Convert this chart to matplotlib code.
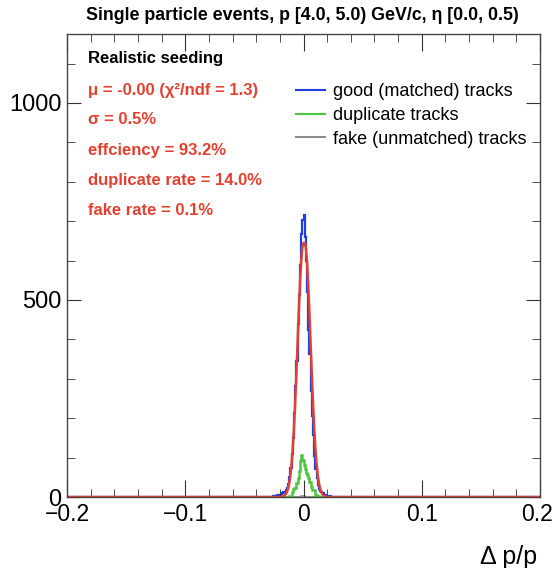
import numpy as np
import matplotlib
matplotlib.use("Agg")
import matplotlib.pyplot as plt
import matplotlib.transforms as mtransforms
from matplotlib.ticker import MultipleLocator
from matplotlib.lines import Line2D

plt.rcParams['font.family'] = ['Liberation Sans', 'DejaVu Sans']

# ---- data ----
x_min, x_max, bin_width = -0.2, 0.2, 0.001
# bins covering [-0.030, 0.030] (60 bins), everything else empty
good_core = [0, 1, 0, 1, 2, 1, 3, 2, 4, 5,
             6, 8, 10, 12, 11, 17, 24, 33, 50, 74,
             108, 150, 214, 282, 345, 440, 512, 590, 668, 702,
             715, 660, 598, 520, 425, 362, 270, 205, 158, 104,
             70, 47, 30, 21, 14, 12, 9, 6, 4, 3,
             2, 1, 2, 0, 1, 0, 1, 0, 0, 0]
dup_core = [0, 0, 0, 0, 0, 0, 0, 0, 0, 0,
            0, 0, 0, 0, 0, 0, 0, 1, 2, 3,
            12, 20, 22, 24, 35, 48, 66, 92, 107, 95,
            80, 72, 62, 55, 48, 38, 25, 19, 18, 18,
            6, 3, 2, 1, 0, 0, 0, 0, 0, 0,
            0, 0, 0, 0, 0, 0, 0, 0, 0, 0]
fake_core = [0, 0, 0, 0, 0, 0, 0, 0, 0, 0,
             0, 0, 0, 0, 0, 0, 0, 0, 0, 0,
             0, 0, 0, 0, 0, 0, 1, 1, 2, 2,
             2, 1, 1, 1, 0, 0, 0, 0, 0, 0,
             0, 0, 0, 0, 0, 0, 0, 0, 0, 0,
             0, 0, 0, 0, 0, 0, 0, 0, 0, 0]
core_start = -0.030

# Gaussian fit curve
fit_x = [-0.2, -0.021, -0.020, -0.019, -0.018, -0.017, -0.016, -0.015, -0.014, -0.013,
         -0.012, -0.011, -0.010, -0.009, -0.008, -0.007, -0.006, -0.005, -0.004,
         -0.003, -0.002, -0.001, 0.000, 0.001, 0.002, 0.003, 0.004, 0.005, 0.006,
         0.007, 0.008, 0.009, 0.010, 0.011, 0.012, 0.013, 0.014, 0.015, 0.016,
         0.017, 0.018, 0.019, 0.020, 0.021, 0.2]
fit_y = [0, 0, 0.2, 0.5, 1, 2, 4, 7, 13, 22,
         36, 57, 87, 127, 178, 242, 314, 391, 469,
         540, 596, 632, 645, 645, 632, 596, 540, 469, 391,
         314, 242, 178, 127, 87, 57, 36, 22, 13, 7,
         4, 2, 1, 0.5, 0, 0]

title = "Single particle events, p [4.0, 5.0) GeV/c, η [0.0, 0.5)"
stats_head = "Realistic seeding"
stats_lines = ["μ = -0.00 (χ²/ndf = 1.3)", "σ = 0.5%", "effciency = 93.2%",
               "duplicate rate = 14.0%", "fake rate = 0.1%"]
legend_labels = ["good (matched) tracks", "duplicate tracks", "fake (unmatched) tracks"]
x_tick_vals = [-0.2, -0.1, 0, 0.1, 0.2]
x_tick_labels = ["−0.2", "−0.1", "0", "0.1", "0.2"]
y_tick_vals = [0, 500, 1000]
y_tick_labels = ["0", "500", "1000"]
y_max = 1175

# ---- build histograms ----
nbins = int(round((x_max - x_min) / bin_width))
edges = np.linspace(x_min, x_max, nbins + 1)
i0 = int(round((core_start - x_min) / bin_width))
def full(core):
    h = np.zeros(nbins)
    h[i0:i0 + len(core)] = core
    return h

good = full(good_core)
dup = full(dup_core)
fake = full(fake_core)

c_blue = "#1f3fe0"
c_green = "#4cc63a"
c_grey = "#8c8c8c"
c_red = "#e2412f"

fig = plt.figure(figsize=(5.53, 5.68), dpi=100)
ax = fig.add_axes([67/553, 1-497/568, (540-67)/553, (497-34)/568])

ax.stairs(good, edges, color=c_blue, lw=1.6)
ax.stairs(fake, edges, color=c_grey, lw=1.2)
ax.stairs(dup, edges, color=c_green, lw=1.8)
ax.plot(fit_x, fit_y, color=c_red, lw=1.8)

ax.set_xlim(x_min, x_max)
ax.set_ylim(0, y_max)
ax.xaxis.set_minor_locator(MultipleLocator(0.02))
ax.yaxis.set_minor_locator(MultipleLocator(100))
ax.set_xticks(x_tick_vals)
ax.set_xticklabels(x_tick_labels)
ax.set_yticks(y_tick_vals)
ax.set_yticklabels(y_tick_labels)
ax.tick_params(which='both', direction='in', top=True, right=True, colors='#333333',
               labelcolor='black', labelsize=17)
ax.tick_params(axis='x', which='major', length=12, pad=4, labelsize=16.5)
ax.tick_params(axis='x', which='minor', length=6)
ax.tick_params(axis='y', which='major', length=10, pad=4)
ax.tick_params(axis='y', which='minor', length=6)
for s in ax.spines.values():
    s.set_color('#444444')
    s.set_linewidth(1.0)
# keep the last x label inside the canvas
last = ax.get_xticklabels()[-1]
last.set_transform(last.get_transform() + mtransforms.ScaledTranslation(-3/100, 0, fig.dpi_scale_trans))

fig.text(302/553, 1-16/568, title, ha='center', va='center', fontsize=12.8, fontweight='bold')
fig.text(537/553, 1-557/568, "Δ p/p", ha='right', va='center', fontsize=18)

fig.text(88/553, 1-58/568, stats_head, ha='left', va='center', fontsize=12, fontweight='bold')
for k, line in enumerate(stats_lines):
    fig.text(88/553, 1-(90 + 30*k)/568, line, ha='left', va='center', fontsize=12,
             fontweight='bold', color=c_red)

handles = [Line2D([], [], color=c_blue, lw=1.5),
           Line2D([], [], color=c_green, lw=1.5),
           Line2D([], [], color=c_grey, lw=1.5)]
leg = ax.legend(handles, legend_labels, loc='upper left', bbox_to_anchor=(287/553, 1-74/568),
                bbox_transform=fig.transFigure, frameon=False, fontsize=13,
                handlelength=1.6, handletextpad=0.45, labelspacing=0.38, borderpad=0)

fig.savefig("out.png", dpi=100)
